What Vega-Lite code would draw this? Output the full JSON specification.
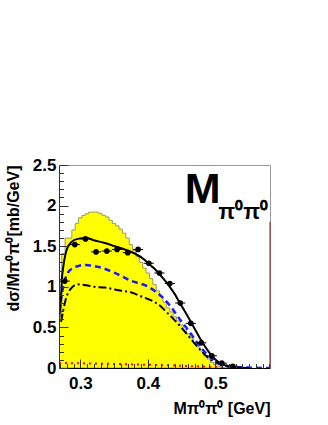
{
  "$schema": "https://vega.github.io/schema/vega-lite/v6.json",
  "autosize": {"type": "none"},
  "width": 211,
  "height": 203,
  "padding": {"left": 59, "top": 165, "right": 58, "bottom": 57},
  "background": "white",
  "config": {
    "font": "Liberation Sans",
    "view": {"stroke": "#999999", "strokeWidth": 1}
  },
  "resolve": {"axis": {"x": "independent", "y": "independent"}},
  "datasets": {
    "hist": [
      {"m": 0.2675, "v": 0.65}, {"m": 0.2725, "v": 1.41}, {"m": 0.2775, "v": 1.60}, {"m": 0.2825, "v": 1.60},
      {"m": 0.2875, "v": 1.70}, {"m": 0.2925, "v": 1.78}, {"m": 0.2975, "v": 1.85}, {"m": 0.3025, "v": 1.88},
      {"m": 0.3075, "v": 1.90}, {"m": 0.3125, "v": 1.92}, {"m": 0.3175, "v": 1.92}, {"m": 0.3225, "v": 1.92},
      {"m": 0.3275, "v": 1.90}, {"m": 0.3325, "v": 1.88}, {"m": 0.3375, "v": 1.86}, {"m": 0.3425, "v": 1.82},
      {"m": 0.3475, "v": 1.78}, {"m": 0.3525, "v": 1.75}, {"m": 0.3575, "v": 1.71}, {"m": 0.3625, "v": 1.66},
      {"m": 0.3675, "v": 1.60}, {"m": 0.3725, "v": 1.52}, {"m": 0.3775, "v": 1.45}, {"m": 0.3825, "v": 1.37},
      {"m": 0.3875, "v": 1.30}, {"m": 0.3925, "v": 1.23}, {"m": 0.3975, "v": 1.17}, {"m": 0.4025, "v": 1.10},
      {"m": 0.4075, "v": 1.03}, {"m": 0.4125, "v": 0.95}, {"m": 0.4175, "v": 0.88}, {"m": 0.4225, "v": 0.81},
      {"m": 0.4275, "v": 0.74}, {"m": 0.4325, "v": 0.69}, {"m": 0.4375, "v": 0.63}, {"m": 0.4425, "v": 0.58},
      {"m": 0.4475, "v": 0.53}, {"m": 0.4525, "v": 0.47}, {"m": 0.4575, "v": 0.42}, {"m": 0.4625, "v": 0.37},
      {"m": 0.4675, "v": 0.31}, {"m": 0.4725, "v": 0.26}, {"m": 0.4775, "v": 0.21}, {"m": 0.4825, "v": 0.15},
      {"m": 0.4875, "v": 0.11}, {"m": 0.4925, "v": 0.07}, {"m": 0.4975, "v": 0.04}, {"m": 0.5025, "v": 0.02},
      {"m": 0.5075, "v": 0.01}, {"m": 0.5125, "v": 0.0}, {"m": 0.5175, "v": 0.0}
    ],
    "red": [
      {"m": 0.2685, "v": 0.062}, {"m": 0.30, "v": 0.058}, {"m": 0.35, "v": 0.05}, {"m": 0.40, "v": 0.04},
      {"m": 0.45, "v": 0.027}, {"m": 0.48, "v": 0.018}, {"m": 0.50, "v": 0.01}, {"m": 0.52, "v": 0.003}
    ],
    "dashdot": [
      {"m": 0.2716, "v": 0.57}, {"m": 0.2790, "v": 0.86}, {"m": 0.2864, "v": 0.98}, {"m": 0.2963, "v": 1.03},
      {"m": 0.3086, "v": 1.02}, {"m": 0.3210, "v": 1.00}, {"m": 0.3363, "v": 0.99}, {"m": 0.3610, "v": 0.95},
      {"m": 0.3759, "v": 0.93}, {"m": 0.3907, "v": 0.88}, {"m": 0.4030, "v": 0.84}, {"m": 0.4104, "v": 0.81},
      {"m": 0.4178, "v": 0.77}, {"m": 0.4252, "v": 0.71}, {"m": 0.4326, "v": 0.65}, {"m": 0.4474, "v": 0.52},
      {"m": 0.4622, "v": 0.375}, {"m": 0.4770, "v": 0.23}, {"m": 0.4919, "v": 0.11}, {"m": 0.5067, "v": 0.05},
      {"m": 0.5215, "v": 0.02}, {"m": 0.5437, "v": 0.005}
    ],
    "blue": [
      {"m": 0.2692, "v": 0.69}, {"m": 0.2741, "v": 0.98}, {"m": 0.2815, "v": 1.17}, {"m": 0.2889, "v": 1.23},
      {"m": 0.2988, "v": 1.26}, {"m": 0.3086, "v": 1.27}, {"m": 0.3170, "v": 1.26}, {"m": 0.3289, "v": 1.24},
      {"m": 0.3541, "v": 1.16}, {"m": 0.3763, "v": 1.07}, {"m": 0.3956, "v": 1.02}, {"m": 0.4030, "v": 0.99},
      {"m": 0.4129, "v": 0.93}, {"m": 0.4178, "v": 0.90}, {"m": 0.4326, "v": 0.77}, {"m": 0.4474, "v": 0.60},
      {"m": 0.4622, "v": 0.44}, {"m": 0.4770, "v": 0.27}, {"m": 0.4889, "v": 0.16}, {"m": 0.5018, "v": 0.07},
      {"m": 0.5166, "v": 0.025}, {"m": 0.5363, "v": 0.008}, {"m": 0.5807, "v": 0.0}
    ],
    "solid": [
      {"m": 0.2690, "v": 0.62}, {"m": 0.2716, "v": 0.90}, {"m": 0.2730, "v": 1.12}, {"m": 0.2741, "v": 1.20},
      {"m": 0.2793, "v": 1.44}, {"m": 0.2867, "v": 1.55}, {"m": 0.2963, "v": 1.59}, {"m": 0.3089, "v": 1.60},
      {"m": 0.3215, "v": 1.57}, {"m": 0.3363, "v": 1.54}, {"m": 0.3511, "v": 1.50}, {"m": 0.3659, "v": 1.46},
      {"m": 0.3807, "v": 1.41}, {"m": 0.3956, "v": 1.33}, {"m": 0.4030, "v": 1.27}, {"m": 0.4104, "v": 1.22},
      {"m": 0.4178, "v": 1.15}, {"m": 0.4252, "v": 1.08}, {"m": 0.4326, "v": 1.00}, {"m": 0.4400, "v": 0.91},
      {"m": 0.4474, "v": 0.80}, {"m": 0.4548, "v": 0.70}, {"m": 0.4622, "v": 0.59}, {"m": 0.4696, "v": 0.48},
      {"m": 0.4770, "v": 0.37}, {"m": 0.4844, "v": 0.27}, {"m": 0.4919, "v": 0.18}, {"m": 0.4993, "v": 0.11},
      {"m": 0.5067, "v": 0.06}, {"m": 0.5156, "v": 0.03}, {"m": 0.5304, "v": 0.01}, {"m": 0.5511, "v": 0.0}
    ],
    "points": [
      {"m": 0.2770, "v": 1.07, "ex": 0.0075}, {"m": 0.2919, "v": 1.52, "ex": 0.0075}, {"m": 0.3077, "v": 1.59, "ex": 0.0075},
      {"m": 0.3234, "v": 1.43, "ex": 0.0075}, {"m": 0.3393, "v": 1.44, "ex": 0.0075}, {"m": 0.3545, "v": 1.46, "ex": 0.0075},
      {"m": 0.3704, "v": 1.42, "ex": 0.0075}, {"m": 0.3856, "v": 1.46, "ex": 0.0075}, {"m": 0.4015, "v": 1.29, "ex": 0.0075},
      {"m": 0.4173, "v": 1.17, "ex": 0.0075}, {"m": 0.4326, "v": 1.04, "ex": 0.0075}, {"m": 0.4481, "v": 0.80, "ex": 0.0075},
      {"m": 0.4637, "v": 0.55, "ex": 0.0075}, {"m": 0.4793, "v": 0.31, "ex": 0.0075}, {"m": 0.4948, "v": 0.15, "ex": 0.0075},
      {"m": 0.5096, "v": 0.06, "ex": 0.0075}, {"m": 0.5259, "v": 0.02, "ex": 0.0075}
    ],
    "labels": [
      {"label": "M", "sub": "π⁰π⁰"}
    ]
  },
  "layer": [
    {
      "data": {"name": "hist"},
      "mark": {"type": "area", "interpolate": "step-after", "color": "#ffff00", "stroke": "#999966", "strokeWidth": 1, "clip": true},
      "encoding": {
        "x": {
          "field": "m", "type": "quantitative",
          "scale": {"domain": [0.2685, 0.581], "nice": false, "zero": false},
          "axis": {
            "orient": "bottom",
            "values": [0.3, 0.4, 0.5],
            "format": ".1f",
            "tickSize": -9,
            "tickColor": "#333333",
            "domainColor": "#000000",
            "grid": false,
            "zindex": 1,
            "labelFont": "Liberation Sans", "labelFontSize": 17, "labelFontWeight": "bold", "labelColor": "#000000",
            "labelPadding": 16, "labelFlush": false, "labelOverlap": false,
            "title": "Mπ⁰π⁰ [GeV]", "titleAnchor": "end", "titleFont": "Liberation Sans", "titleFontSize": 16,
            "titleFontWeight": "bold", "titleColor": "#000000", "titlePadding": 9
          }
        },
        "y": {
          "field": "v", "type": "quantitative",
          "scale": {"domain": [0, 2.5], "nice": false},
          "axis": {
            "orient": "left",
            "values": [0, 0.5, 1, 1.5, 2, 2.5],
            "format": "~g",
            "tickSize": -9,
            "tickColor": "#333333",
            "domainColor": "#333333",
            "grid": false,
            "zindex": 1,
            "labelFont": "Liberation Sans", "labelFontSize": 17, "labelFontWeight": "bold", "labelColor": "#000000",
            "labelPadding": 12, "labelFlush": false, "labelOverlap": false,
            "title": "dσ/Mπ⁰π⁰[mb/GeV]", "titleAnchor": "end", "titleFont": "Liberation Sans", "titleFontSize": 16,
            "titleFontWeight": "bold", "titleColor": "#000000", "titlePadding": 11
          }
        }
      }
    },
    {
      "data": {"name": "red"},
      "mark": {"type": "line", "color": "#ff0000", "strokeWidth": 2, "strokeDash": [2, 4], "clip": true},
      "encoding": {
        "x": {"field": "m", "type": "quantitative", "axis": {"orient": "bottom", "zindex": 1, "values": [0.27, 0.28, 0.29, 0.31, 0.32, 0.33, 0.34, 0.35, 0.36, 0.37, 0.38, 0.39, 0.41, 0.42, 0.43, 0.44, 0.45, 0.46, 0.47, 0.48, 0.49, 0.51, 0.52, 0.53, 0.54, 0.55, 0.56, 0.57, 0.58], "labels": false, "domain": false, "grid": false, "tickSize": -4.5, "tickColor": "#333333", "title": null}},
        "y": {"field": "v", "type": "quantitative", "axis": {"orient": "left", "zindex": 1, "values": [0.1, 0.2, 0.3, 0.4, 0.6, 0.7, 0.8, 0.9, 1.1, 1.2, 1.3, 1.4, 1.6, 1.7, 1.8, 1.9, 2.1, 2.2, 2.3, 2.4], "labels": false, "domain": false, "grid": false, "tickSize": -4.5, "tickColor": "#333333", "title": null}}
      }
    },
    {
      "data": {"name": "dashdot"},
      "mark": {"type": "line", "color": "#000000", "strokeWidth": 2, "strokeDash": [8, 3, 2, 3], "interpolate": "monotone", "clip": true},
      "encoding": {"x": {"field": "m", "type": "quantitative", "axis": null}, "y": {"field": "v", "type": "quantitative", "axis": null}}
    },
    {
      "data": {"name": "blue"},
      "mark": {"type": "line", "color": "#1a1aff", "strokeWidth": 2.5, "strokeDash": [6, 4], "interpolate": "monotone", "clip": true},
      "encoding": {"x": {"field": "m", "type": "quantitative", "axis": null}, "y": {"field": "v", "type": "quantitative", "axis": null}}
    },
    {
      "data": {"name": "solid"},
      "mark": {"type": "line", "color": "#000000", "strokeWidth": 2, "interpolate": "monotone", "clip": true},
      "encoding": {"x": {"field": "m", "type": "quantitative", "axis": null}, "y": {"field": "v", "type": "quantitative", "axis": null}}
    },
    {
      "data": {"name": "points"},
      "mark": {"type": "errorbar", "ticks": false, "color": "#000000", "thickness": 1},
      "encoding": {"x": {"field": "m", "type": "quantitative", "axis": null}, "xError": {"field": "ex"}, "y": {"field": "v", "type": "quantitative", "axis": null}}
    },
    {
      "data": {"name": "points"},
      "mark": {"type": "point", "filled": true, "color": "#000000", "opacity": 1, "size": 32, "shape": "circle", "clip": true},
      "encoding": {"x": {"field": "m", "type": "quantitative", "axis": null}, "y": {"field": "v", "type": "quantitative", "axis": null}}
    },
    {
      "data": {"name": "labels"},
      "mark": {"type": "rule", "color": "#8b1a1a", "strokeWidth": 1},
      "encoding": {"x": {"datum": 0.581, "type": "quantitative", "axis": null}, "y": {"datum": 0, "type": "quantitative", "axis": null}, "y2": {"datum": 1.8}}
    },
    {
      "data": {"name": "labels"},
      "mark": {"type": "text", "font": "Liberation Sans", "fontSize": 43, "fontWeight": "bold", "align": "left", "baseline": "alphabetic", "color": "#000000"},
      "encoding": {"text": {"field": "label"}, "x": {"datum": 0.4548, "type": "quantitative", "axis": null}, "y": {"datum": 2.028, "type": "quantitative", "axis": null}}
    },
    {
      "data": {"name": "labels"},
      "mark": {"type": "text", "font": "Liberation Sans", "fontSize": 22, "fontWeight": "bold", "align": "left", "baseline": "alphabetic", "color": "#000000"},
      "encoding": {"text": {"field": "sub"}, "x": {"datum": 0.5045, "type": "quantitative", "axis": null}, "y": {"datum": 1.83, "type": "quantitative", "axis": null}}
    }
  ]
}
